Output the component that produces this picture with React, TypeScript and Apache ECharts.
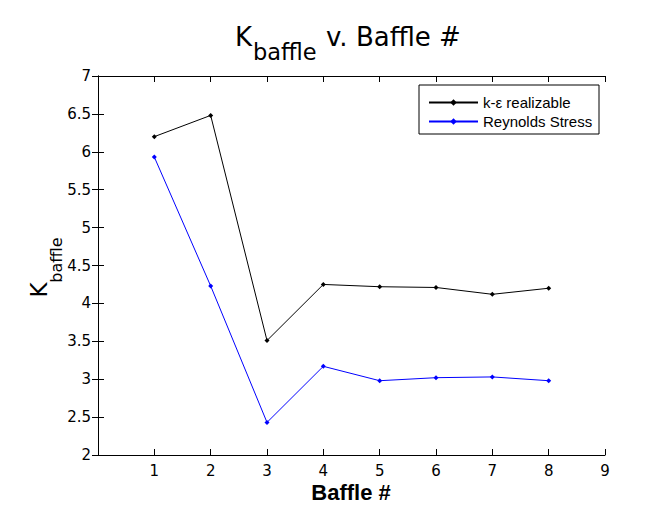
import React, { useEffect, useRef } from "react";
import * as echarts from "echarts";

const baffles = [1, 2, 3, 4, 5, 6, 7, 8];
const kEpsilon = [6.2, 6.48, 3.51, 4.25, 4.22, 4.21, 4.12, 4.2];
const reynoldsStress = [5.93, 4.23, 2.43, 3.17, 2.98, 3.02, 3.03, 2.98];
const seriesNames = ["k-ε realizable", "Reynolds Stress"];
const seriesColors = ["#000000", "#0000ff"];

const TICK_FONT = "'DejaVu Sans', sans-serif";
const ARIAL = "'Liberation Sans', Arial, sans-serif";

export default function App() {
  const ref = useRef<HTMLDivElement>(null);
  useEffect(() => {
    if (!ref.current) return;
    const chart = echarts.init(ref.current, undefined, { renderer: "svg" });
    const axisLine = { show: true, lineStyle: { color: "#000", width: 1 } };
    const axisTick = { show: true, inside: true, length: 6, lineStyle: { color: "#000", width: 1 } };
    const labelStyle = { color: "#000", fontFamily: TICK_FONT, fontSize: 15 };
    const seriesData = [kEpsilon, reynoldsStress];
    chart.setOption({
      animation: false,
      backgroundColor: "#ffffff",
      grid: { left: 98, right: 41, top: 76, bottom: 60, containLabel: false },
      xAxis: [
        {
          type: "value",
          min: 0,
          max: 9,
          interval: 1,
          position: "bottom",
          axisLine,
          axisTick,
          splitLine: { show: false },
          axisLabel: { ...labelStyle, margin: 8, formatter: (v: number) => (v === 0 ? "" : String(v)) },
        },
        {
          type: "value",
          min: 0,
          max: 9,
          interval: 1,
          position: "top",
          axisLine,
          axisTick,
          splitLine: { show: false },
          axisLabel: { show: false },
        },
      ],
      yAxis: [
        {
          type: "value",
          min: 2,
          max: 7,
          interval: 0.5,
          position: "left",
          axisLine,
          axisTick,
          splitLine: { show: false },
          axisLabel: { ...labelStyle, margin: 7 },
        },
        {
          type: "value",
          min: 2,
          max: 7,
          interval: 0.5,
          position: "right",
          axisLine,
          axisTick,
          splitLine: { show: false },
          axisLabel: { show: false },
        },
      ],
      legend: {
        orient: "vertical",
        left: 428,
        top: 94,
        padding: 0,
        itemWidth: 49,
        itemHeight: 8,
        itemGap: 2,
        textStyle: { color: "#000", fontFamily: ARIAL, fontSize: 15, lineHeight: 17 },
        data: seriesNames,
        z: 10,
      },
      series: seriesNames.map((name, i) => ({
        name,
        type: "line",
        xAxisIndex: 0,
        yAxisIndex: 0,
        data: baffles.map((b, j) => [b, seriesData[i][j]]),
        symbol: "diamond",
        symbolSize: 5,
        color: seriesColors[i],
        lineStyle: { color: seriesColors[i], width: 1 },
        itemStyle: { color: seriesColors[i] },
      })),
      graphic: [
        {
          type: "rect",
          shape: { x: 419, y: 85, width: 180, height: 49 },
          style: { fill: "#fff", stroke: "#000", lineWidth: 1 },
          z: 5,
        },
        {
          type: "text",
          x: 235,
          y: 37,
          style: { text: "K", fontFamily: TICK_FONT, fontSize: 26, fill: "#000", align: "left", verticalAlign: "middle" },
        },
        {
          type: "text",
          x: 253,
          y: 52,
          style: { text: "baffle", fontFamily: TICK_FONT, fontSize: 22.5, fill: "#000", align: "left", verticalAlign: "middle" },
        },
        {
          type: "text",
          x: 326,
          y: 37,
          style: { text: "v. Baffle #", fontFamily: TICK_FONT, fontSize: 26, fill: "#000", align: "left", verticalAlign: "middle" },
        },
        {
          type: "text",
          x: 39,
          y: 290,
          rotation: Math.PI / 2,
          style: { text: "K", fontFamily: TICK_FONT, fontSize: 23, fill: "#000", align: "center", verticalAlign: "middle" },
        },
        {
          type: "text",
          x: 56.5,
          y: 260,
          rotation: Math.PI / 2,
          style: { text: "baffle", fontFamily: TICK_FONT, fontSize: 16, fill: "#000", align: "center", verticalAlign: "middle" },
        },
        {
          type: "text",
          x: 351,
          y: 492,
          style: { text: "Baffle #", fontFamily: ARIAL, fontWeight: "bold", fontSize: 22, fill: "#000", align: "center", verticalAlign: "middle" },
        },
      ],
    });
    return () => chart.dispose();
  }, []);
  return (
    <div
      ref={ref}
      style={{ position: "fixed", left: 0, top: 0, width: 646, height: 515, background: "#fff" }}
    />
  );
}
